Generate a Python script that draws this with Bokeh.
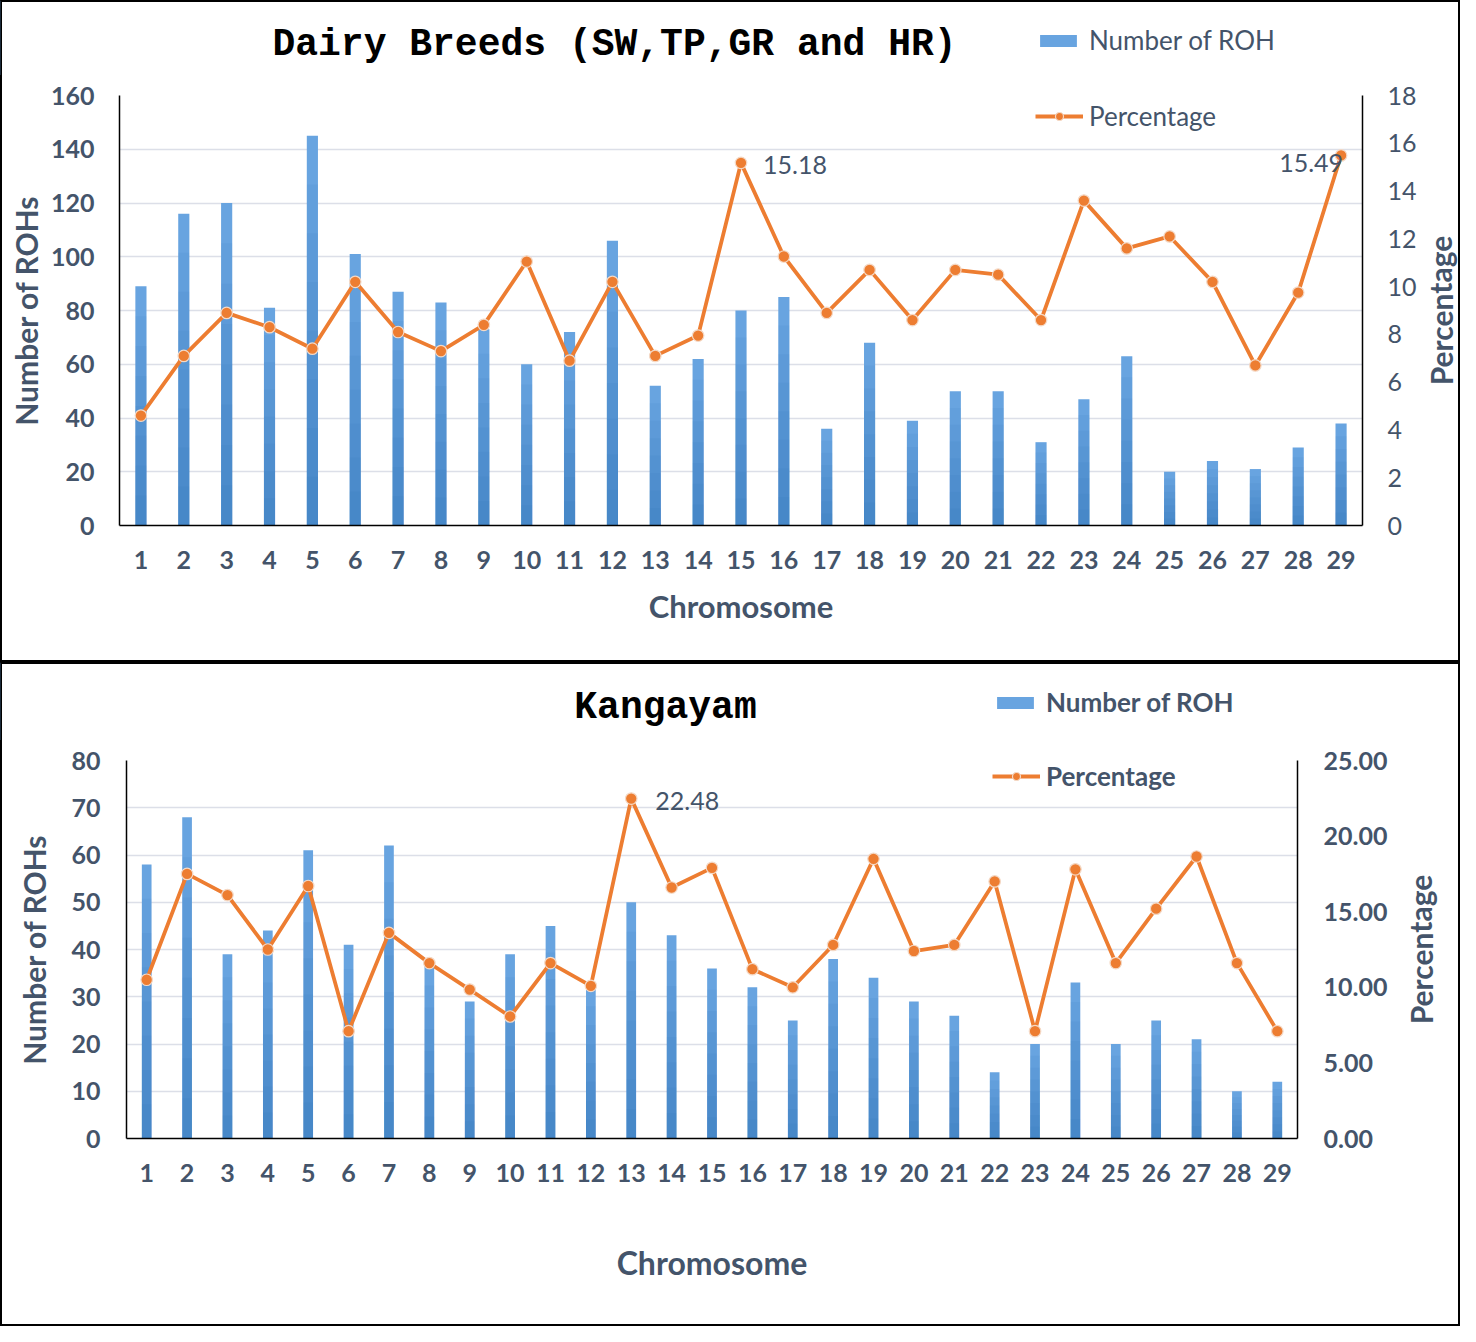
from bokeh.plotting import figure
from bokeh.models import (Range1d, LinearAxis, FixedTicker, NumeralTickFormatter,
                          Legend, LegendItem, ColumnDataSource, Label)
from bokeh.layouts import column, row
from bokeh.embed import file_html
from bokeh.resources import INLINE
from bokeh.core.properties import value

# ---------------- data ----------------
chromosomes = list(range(1, 30))

dairy_title = "Dairy Breeds (SW,TP,GR and HR)"
dairy_roh = [89, 116, 120, 81, 145, 101, 87, 83, 73, 60, 72, 106, 52, 62, 80,
             85, 36, 68, 39, 50, 50, 31, 47, 63, 20, 24, 21, 29, 38]
dairy_pct = [4.6, 7.1, 8.9, 8.3, 7.4, 10.2, 8.1, 7.3, 8.4, 11.05, 6.9, 10.2, 7.1, 7.95, 15.18,
             11.26, 8.9, 10.7, 8.6, 10.7, 10.5, 8.6, 13.6, 11.6, 12.1, 10.2, 6.7, 9.75, 15.49]
dairy_left_ticks = [0, 20, 40, 60, 80, 100, 120, 140, 160]
dairy_right_ticks = [0, 2, 4, 6, 8, 10, 12, 14, 16, 18]

kang_title = "Kangayam"
kang_roh = [58, 68, 39, 44, 61, 41, 62, 37, 29, 39, 45, 32, 50, 43, 36,
            32, 25, 38, 34, 29, 26, 14, 20, 33, 20, 25, 21, 10, 12]
kang_pct = [10.5, 17.5, 16.1, 12.5, 16.7, 7.1, 13.6, 11.6, 9.85, 8.07, 11.6, 10.1, 22.48, 16.6, 17.9,
            11.2, 10.0, 12.8, 18.5, 12.4, 12.8, 17.0, 7.1, 17.8, 11.6, 15.2, 18.65, 11.6, 7.1]
kang_left_ticks = [0, 10, 20, 30, 40, 50, 60, 70, 80]
kang_right_ticks = [0, 5, 10, 15, 20, 25]

# which points carry a data label: (index, align, x_offset, y_offset)
dairy_annot = [(14, "left", 22, 2), (28, "right", 2, 8)]
kang_annot = [(12, "left", 24, 2)]

series_roh = "Number of ROH"
series_pct = "Percentage"
x_title = "Chromosome"
y_title = "Number of ROHs"

# ---------------- styles ----------------
TXT = "#44546a"
BAR = "#68a4e0"
BAR_DARK = "#1c5fae"
ORANGE = "#ed7d31"
GRID = "#dcdfe8"
FONT = "Lato"


def bare(width, height, bt=0, bb=0):
    f = figure(width=width, height=height, output_backend="svg", toolbar_location=None,
               title_location=None, x_axis_type=None, y_axis_type=None,
               x_range=Range1d(0, 1), y_range=Range1d(0, 1),
               min_border_left=0, min_border_right=0, min_border_top=bt, min_border_bottom=bb)
    f.outline_line_color = None
    f.grid.visible = False
    f.background_fill_alpha = 0
    f.border_fill_alpha = 0
    return f


def make_panel(title, roh, pct, left_ticks, right_ticks, right_fmt, bold_right, bold_legend,
               W, head_h, chart_h, bl, chart_w, frame_right, bt, bb, side_x, bar_w, annots,
               title_xy, leg1_xy, leg2_xy, tick_px, leg_px, lab_px, axlab_px, xlab_px,
               left_std, left_lab_std, bot_std, bot_lab_std):
    lstyle = "bold" if bold_legend else "normal"

    # ---------- header: title and bar legend ----------
    head = bare(W, head_h)
    # legend swatch only: one bar placed left of the header's visible range
    dummy = head.vbar(x=[head.x_range.start - 10], top=[1], width=0.3,
                      fill_color=BAR, line_color=None)
    head.add_layout(Label(x=title_xy[0], y=title_xy[1], x_units="screen", y_units="screen",
                          text=title, text_align="center", text_baseline="middle",
                          text_font="Liberation Mono", text_font_size="38px",
                          text_font_style="bold", text_color="black"))
    leg1 = Legend(items=[LegendItem(label=series_roh, renderers=[dummy])],
                  location=leg1_xy, glyph_width=46, glyph_height=15, label_height=28,
                  label_standoff=8, padding=0, margin=0, border_line_alpha=0,
                  background_fill_alpha=0, label_text_font=FONT, label_text_font_size=leg_px,
                  label_text_font_style=lstyle, label_text_color=TXT)
    head.add_layout(leg1, "center")

    # ---------- chart ----------
    p = figure(width=chart_w, height=chart_h, output_backend="svg", toolbar_location=None,
               title_location=None,
               x_range=Range1d(0.5, 29.5), y_range=Range1d(left_ticks[0], left_ticks[-1]),
               min_border_left=bl, min_border_right=chart_w - frame_right,
               min_border_top=bt, min_border_bottom=bb)
    p.outline_line_color = None
    p.background_fill_color = "white"
    p.border_fill_alpha = 0
    p.extra_y_ranges = {"pct": Range1d(right_ticks[0], right_ticks[-1])}

    # bars with a vertical gradient (light on top, darker at the base)
    src = ColumnDataSource(dict(x=chromosomes, roh=roh, pct=pct))
    p.vbar(x="x", top="roh", bottom=0, width=bar_w, source=src,
           fill_color=BAR, line_color=None)
    n = 8
    for k in range(1, n):
        p.vbar(x=chromosomes, top=[v * k / n for v in roh], bottom=0, width=bar_w,
               fill_color=BAR_DARK, fill_alpha=0.07, line_color=None)

    line = p.line(x="x", y="pct", source=src, y_range_name="pct",
                  line_color=ORANGE, line_width=3.8)
    pts = p.scatter(x="x", y="pct", source=src, y_range_name="pct", size=11.5,
                    fill_color=ORANGE, line_color="#f4d9c6", line_width=1.2)

    for idx, align, xo, yo in annots:
        p.text(x=[chromosomes[idx]], y=[pct[idx]], text=[f"{pct[idx]:.2f}"], y_range_name="pct",
               text_align=align, text_baseline="middle", x_offset=xo, y_offset=yo,
               text_font=value(FONT), text_font_size=lab_px, text_color=TXT)

    xa = p.xaxis[0]
    xa.ticker = FixedTicker(ticks=chromosomes)
    xa.axis_label = x_title
    ya = p.yaxis[0]
    ya.ticker = FixedTicker(ticks=left_ticks)
    ya.axis_label = y_title
    ra = LinearAxis(y_range_name="pct", ticker=FixedTicker(ticks=right_ticks))
    if right_fmt:
        ra.formatter = NumeralTickFormatter(format=right_fmt)
    p.add_layout(ra, "right")

    for ax in (xa, ya, ra):
        ax.major_tick_line_color = None
        ax.minor_tick_line_color = None
        ax.major_tick_out = 0
        ax.major_tick_in = 0
        ax.major_label_text_font = FONT
        ax.major_label_text_font_size = tick_px
        ax.major_label_text_font_style = "bold"
        ax.major_label_text_color = TXT
        ax.axis_label_text_font = FONT
        ax.axis_label_text_font_size = axlab_px
        ax.axis_label_text_font_style = "bold"
        ax.axis_label_text_color = TXT
        ax.axis_line_color = "black"
        ax.axis_line_width = 1.5
    xa.axis_label_text_font_size = xlab_px
    if not bold_right:
        ra.major_label_text_font_style = "normal"
    ya.major_label_standoff = left_std
    ya.axis_label_standoff = left_lab_std
    ra.major_label_standoff = left_std
    xa.major_label_standoff = bot_std
    xa.axis_label_standoff = bot_lab_std

    p.xgrid.visible = False
    p.ygrid.grid_line_color = GRID
    p.ygrid.grid_line_width = 1.5

    leg2 = Legend(items=[LegendItem(label=series_pct, renderers=[line, pts])],
                  location=leg2_xy, glyph_width=48, glyph_height=20, label_height=28,
                  label_standoff=6, padding=0, margin=0, border_line_alpha=0,
                  background_fill_alpha=0, label_text_font=FONT, label_text_font_size=leg_px,
                  label_text_font_style=lstyle, label_text_color=TXT)
    p.add_layout(leg2, "center")

    # ---------- right-hand axis title (reads bottom-to-top) ----------
    side = bare(W - chart_w, chart_h, bt=bt, bb=bb)
    frame_h = chart_h - bt - bb
    side.add_layout(Label(x=side_x, y=frame_h / 2, x_units="screen", y_units="screen",
                          text=series_pct, angle=1.5708, text_align="center",
                          text_baseline="middle", text_font=FONT, text_font_size=axlab_px,
                          text_font_style="bold", text_color=TXT))

    panel = column(head, row(p, side, spacing=0), spacing=0)
    panel.styles = {"box-shadow": "inset 0 0 0 2px black", "background": "white"}
    return panel


p1 = make_panel(dairy_title, dairy_roh, dairy_pct, dairy_left_ticks, dairy_right_ticks, None,
                False, False,
                W=1460, head_h=75, chart_h=587, bl=119, chart_w=1420, frame_right=1362,
                bt=20, bb=137, side_x=20, bar_w=0.26, annots=dairy_annot,
                title_xy=(614, 31), leg1_xy=(1035, 19), leg2_xy=(916, 393),
                tick_px="25px", leg_px="26px", lab_px="25px", axlab_px="30px", xlab_px="31px",
                left_std=25, left_lab_std=4, bot_std=25, bot_lab_std=15)

p2 = make_panel(kang_title, kang_roh, kang_pct, kang_left_ticks, kang_right_ticks, "0.00",
                True, True,
                W=1460, head_h=78, chart_h=586, bl=126, chart_w=1400, frame_right=1297,
                bt=20, bb=188, side_x=20, bar_w=0.24, annots=kang_annot,
                title_xy=(665, 33), leg1_xy=(992, 22), leg2_xy=(866, 346),
                tick_px="25px", leg_px="26px", lab_px="25px", axlab_px="30px", xlab_px="32px",
                left_std=26, left_lab_std=16, bot_std=25, bot_lab_std=58)

open("out.html", "w").write(file_html([p1, p2], INLINE))
